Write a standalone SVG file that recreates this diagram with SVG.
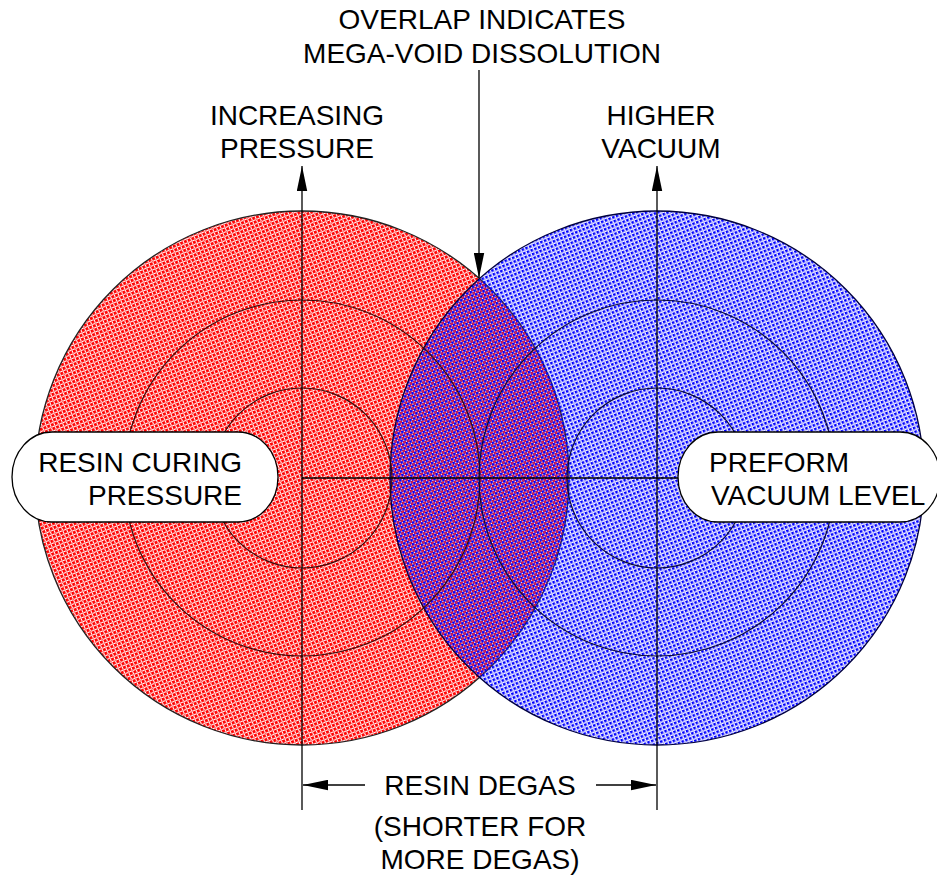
<svg xmlns="http://www.w3.org/2000/svg" width="937" height="876" viewBox="0 0 937 876">
<style>
text{font-family:"Liberation Sans",Arial,sans-serif;font-size:28px;fill:#000}
.ln{stroke:#000;stroke-width:1.3;fill:none}
.ringR{stroke:#3a0a0a;stroke-width:1.2;fill:none}
.ringB{stroke:#0a0a3a;stroke-width:1.2;fill:none}
.pill{fill:#fff;stroke:#000;stroke-width:1.3}
</style>
<defs>
<pattern id="pr" width="4" height="4" patternUnits="userSpaceOnUse" patternTransform="rotate(-22)">
<rect x="0" y="0" width="2.9" height="2.9" fill="#ff0000"/>
<rect x="2.9" y="2.9" width="1.1" height="1.1" fill="#ff5050"/>
</pattern>
<pattern id="pb" width="4" height="4" patternUnits="userSpaceOnUse" patternTransform="rotate(-22) translate(2,2)">
<rect x="0" y="0" width="2.6" height="2.6" fill="#0000ff"/>
<rect x="2.7" y="2.7" width="1" height="1" fill="#6060ff"/>
</pattern>
<marker id="ah" viewBox="0 0 24 10" refX="24" refY="5" markerWidth="25" markerHeight="11" markerUnits="userSpaceOnUse" orient="auto">
<path d="M0,0 L24,5 L0,10 Z" fill="#000"/>
</marker>
</defs>
<rect width="937" height="876" fill="#fff"/>
<g id="circle-pressure">
<circle cx="302" cy="478" r="267" fill="url(#pr)" stroke="#222" stroke-width="1.3"/>
</g>
<g id="circle-vacuum">
<circle cx="657" cy="478" r="267" fill="url(#pb)" stroke="#000040" stroke-width="1.3"/>
</g>
<g id="rings">
<circle class="ringR" cx="302" cy="478" r="178"/>
<circle class="ringR" cx="302" cy="478" r="90"/>
<circle class="ringB" cx="657" cy="478" r="178"/>
<circle class="ringB" cx="657" cy="478" r="90"/>
</g>
<g id="connectors">
<line class="ln" x1="302" y1="810" x2="302" y2="166" marker-end="url(#ah)"/>
<line class="ln" x1="657" y1="810" x2="657" y2="166" marker-end="url(#ah)"/>
<line class="ln" x1="302" y1="478" x2="680" y2="478"/>
<line class="ln" x1="479" y1="70" x2="479" y2="278" marker-end="url(#ah)"/>
<line class="ln" x1="365" y1="785" x2="303" y2="785" marker-end="url(#ah)"/>
<line class="ln" x1="596" y1="785" x2="656" y2="785" marker-end="url(#ah)"/>
</g>
<g id="label-pressure">
<rect class="pill" x="12" y="432" width="266" height="90" rx="40" ry="45"/>
<text x="242" y="472" text-anchor="end">RESIN CURING</text>
<text x="242" y="505" text-anchor="end">PRESSURE</text>
</g>
<g id="label-vacuum">
<rect class="pill" x="678" y="432" width="262" height="90" rx="40" ry="45"/>
<text x="709" y="472">PREFORM</text>
<text x="711" y="505">VACUUM LEVEL</text>
</g>
<g id="label-overlap">
<text x="482" y="29" text-anchor="middle">OVERLAP INDICATES</text>
<text x="482" y="63" text-anchor="middle">MEGA-VOID DISSOLUTION</text>
</g>
<g id="label-increasing">
<text x="297" y="125" text-anchor="middle">INCREASING</text>
<text x="297" y="158" text-anchor="middle">PRESSURE</text>
</g>
<g id="label-higher">
<text x="661" y="125" text-anchor="middle">HIGHER</text>
<text x="661" y="158" text-anchor="middle">VACUUM</text>
</g>
<g id="label-degas">
<text x="480" y="795" text-anchor="middle">RESIN DEGAS</text>
<text x="480" y="836" text-anchor="middle">(SHORTER FOR</text>
<text x="480" y="869" text-anchor="middle">MORE DEGAS)</text>
</g>
</svg>
